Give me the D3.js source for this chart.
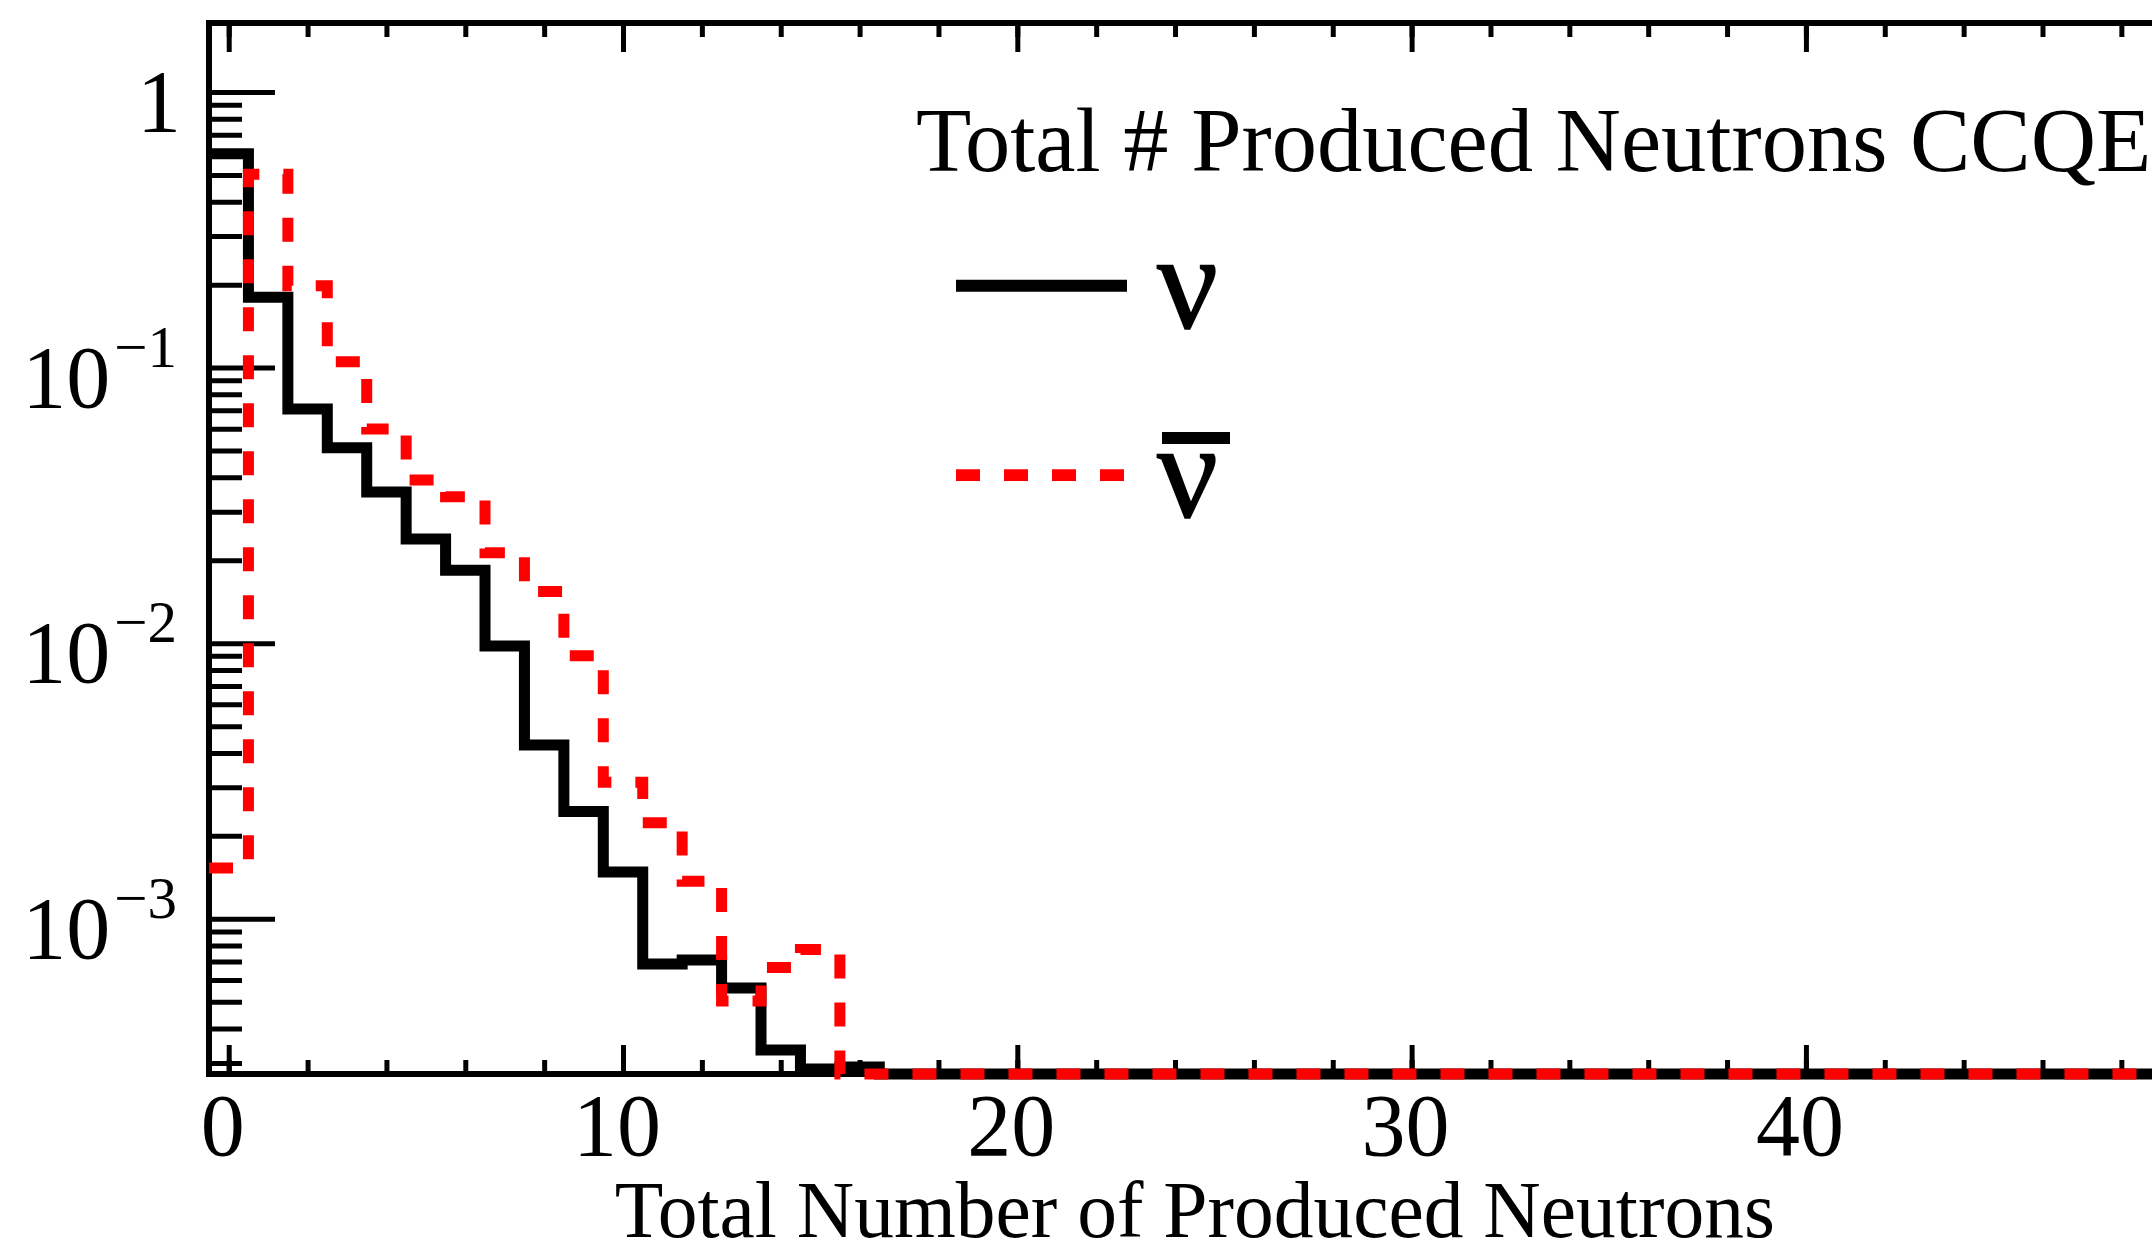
<!DOCTYPE html>
<html><head><meta charset="utf-8">
<script src="https://cdn.jsdelivr.net/npm/d3@7"></script>
<style>html,body{margin:0;padding:0;background:#fff;overflow:hidden}</style>
</head><body>
<script>
// ---------------- data ----------------
const binCenters = [0,1,2,3,4,5,6,7,8,9,10,11,12,13,14,15,16,17,18,19,20,21,22,23,24,25,26,27,28,29,30,31,32,33,34,35,36,37,38,39,40,41,42,43,44,45,46,47,48,49];
// neutrino (black solid)
const nuValues = [0.597,0.180,0.0707,0.0512,0.0354,0.0239,0.0184,0.00977,0.00427,0.00245,0.00148,0.000685,0.000709,0.000561,0.000334,0.000285,0.000290,
  0,0,0,0,0,0,0,0,0,0,0,0,0,0,0,0,0,0,0,0,0,0,0,0,0,0,0,0,0,0,0,0,0];
// antineutrino (red dashed)
const nubarValues = [0.00153,0.503,0.198,0.105,0.0599,0.0391,0.0340,0.0213,0.0154,0.0090,0.00313,0.00223,0.00137,0.000503,0.000666,0.000774,
  0,0,0,0,0,0,0,0,0,0,0,0,0,0,0,0,0,0,0,0,0,0,0,0,0,0,0,0,0,0,0,0,0,0];
const xMajorTicks = [0,10,20,30,40];
const xMajorLabels = ["0","10","20","30","40"];
const xMinorTicks = [0,2,4,6,8,10,12,14,16,18,20,22,24,26,28,30,32,34,36,38,40,42,44,46,48];
const yMajorTicks = [1,0.1,0.01,0.001];
const yMajorExponents = [0,-1,-2,-3];
const yMinorTicks = [0.9,0.8,0.7,0.6,0.5,0.4,0.3,0.2,0.09,0.08,0.07,0.06,0.05,0.04,0.03,0.02,
  0.009,0.008,0.007,0.006,0.005,0.004,0.003,0.002,0.0009,0.0008,0.0007,0.0006,0.0005,0.0004,0.0003];
const yDomain = [2.735e-4, 1.78];
const xDomain = [-0.5, 49.5];
const titleText = "Total # Produced Neutrons CCQE";
const xTitleText = "Total Number of Produced Neutrons";
const legendLabels = ["ν", "ν"];

// ---------------- layout ----------------
const W = 2152, H = 1246;
const L = 209, R = 2180.5, T = 23, B = 1074;
const font = "'Liberation Serif','Times New Roman',Times,serif";

const svg = d3.select('body').append('svg').attr('width', W).attr('height', H)
  .style('display','block');
svg.append('rect').attr('width', W).attr('height', H).attr('fill', '#fff');

const x = d3.scaleLinear().domain(xDomain).range([L, R]);
const y = d3.scaleLog().domain(yDomain).range([B, T]);

function styleAxis(g){
  g.select('.domain').remove();
  g.selectAll('.tick line').attr('stroke', '#000').attr('stroke-width', 5);
  g.selectAll('.tick text').remove();
}
// bottom
svg.append('g').attr('transform', `translate(0,${B})`)
  .call(d3.axisBottom(x).tickValues(xMinorTicks).tickSize(-14)).call(styleAxis);
svg.append('g').attr('transform', `translate(0,${B})`)
  .call(d3.axisBottom(x).tickValues(xMajorTicks).tickSize(-29)).call(styleAxis);
// top
svg.append('g').attr('transform', `translate(0,${T})`)
  .call(d3.axisTop(x).tickValues(xMinorTicks).tickSize(-14)).call(styleAxis);
svg.append('g').attr('transform', `translate(0,${T})`)
  .call(d3.axisTop(x).tickValues(xMajorTicks).tickSize(-29)).call(styleAxis);
// left
svg.append('g').attr('transform', `translate(${L},0)`)
  .call(d3.axisLeft(y).tickValues(yMinorTicks).tickSize(-33)).call(styleAxis);
svg.append('g').attr('transform', `translate(${L},0)`)
  .call(d3.axisLeft(y).tickValues(yMajorTicks).tickSize(-66)).call(styleAxis);

// frame
svg.append('rect').attr('x', L).attr('y', T).attr('width', R - L).attr('height', B - T)
  .attr('fill', 'none').attr('stroke', '#000').attr('stroke-width', 6);

// histograms
function histPoints(vals){
  const pts = vals.map((v, i) => [binCenters[i] - 0.5, v]);
  pts.push([binCenters[vals.length - 1] + 0.5, vals[vals.length - 1]]);
  return pts;
}
const line = d3.line()
  .x(d => x(d[0]))
  .y(d => y(Math.max(d[1], yDomain[0])))
  .curve(d3.curveStepAfter);

svg.append('path').attr('d', line(histPoints(nuValues)))
  .attr('fill', 'none').attr('stroke', '#000').attr('stroke-width', 11)
  .attr('stroke-linejoin', 'miter');
svg.append('path').attr('d', line(histPoints(nubarValues)))
  .attr('fill', 'none').attr('stroke', '#ff0000').attr('stroke-width', 11)
  .attr('stroke-dasharray', '24,24').attr('stroke-linejoin', 'miter');

// x tick labels
svg.append('g').selectAll('text').data(xMajorTicks).join('text')
  .attr('x', d => x(d) - 6).attr('y', 1155)
  .attr('text-anchor', 'middle').attr('font-family', font).attr('font-size', 88)
  .attr('fill', '#000').text((d, i) => xMajorLabels[i]);

// y tick labels
const yl = svg.append('g').selectAll('text').data(yMajorTicks).join('text')
  .attr('x', (d, i) => yMajorExponents[i] === 0 ? 181 : 177)
  .attr('y', d => y(d) + 39)
  .attr('text-anchor', 'end').attr('font-family', font).attr('font-size', 88).attr('fill', '#000');
yl.each(function(d, i){
  const t = d3.select(this);
  const e = yMajorExponents[i];
  if (e === 0) { t.text('1'); return; }
  t.append('tspan').text('10');
  t.append('tspan').attr('font-size', 59).attr('dy', -40).attr('dx', 4).text('\u2212' + Math.abs(e));
});

// axis title
svg.append('text').attr('x', (L + R) / 2).attr('y', 1237)
  .attr('text-anchor', 'middle').attr('font-family', font).attr('font-size', 79.5)
  .attr('fill', '#000').text(xTitleText);

// plot title
svg.append('text').attr('x', 916).attr('y', 171)
  .attr('font-family', font).attr('font-size', 90.5).attr('fill', '#000').text(titleText);

// legend
svg.append('line').attr('x1', 956).attr('x2', 1127).attr('y1', 285.7).attr('y2', 285.7)
  .attr('stroke', '#000').attr('stroke-width', 12);
svg.append('text').attr('x', 1157).attr('y', 328)
  .attr('font-family', font).attr('font-size', 135).attr('fill', '#000')
  .attr('stroke', '#000').attr('stroke-width', 1.5).text(legendLabels[0]);
svg.append('line').attr('x1', 956).attr('x2', 1124).attr('y1', 475.2).attr('y2', 475.2)
  .attr('stroke', '#ff0000').attr('stroke-width', 11.7).attr('stroke-dasharray', '24,24');
svg.append('rect').attr('x', 1162).attr('y', 432).attr('width', 68).attr('height', 12).attr('fill', '#000');
svg.append('text').attr('x', 1157).attr('y', 517)
  .attr('font-family', font).attr('font-size', 135).attr('fill', '#000')
  .attr('stroke', '#000').attr('stroke-width', 1.5).text(legendLabels[1]);
</script>
</body></html>
